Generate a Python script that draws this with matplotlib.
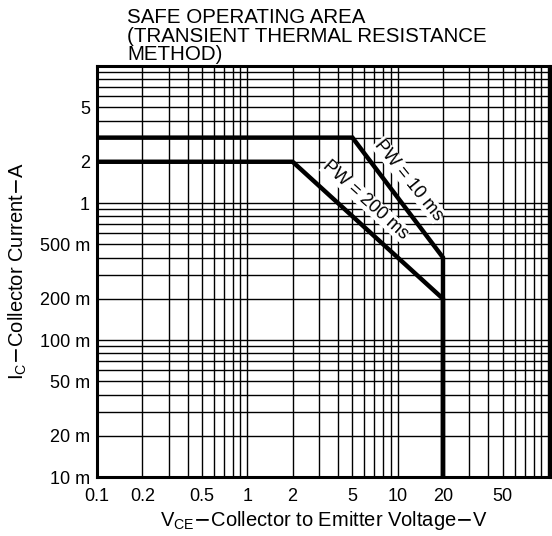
import matplotlib
matplotlib.use("Agg")
import matplotlib.pyplot as plt
from matplotlib.ticker import FixedLocator, NullFormatter, LogLocator

# Data
pw10_v = [0.1, 5.0, 20.0, 20.0]
pw10_i = [3.0, 3.0, 0.4, 0.01]
pw200_v = [0.1, 2.0, 20.0, 20.0]
pw200_i = [2.0, 2.0, 0.2, 0.01]

x_ticks = [0.1, 0.2, 0.5, 1, 2, 5, 10, 20, 50]
x_labels = ["0.1", "0.2", "0.5", "1", "2", "5", "10", "20", "50"]
y_ticks = [0.01, 0.02, 0.05, 0.1, 0.2, 0.5, 1, 2, 5]
y_labels = ["10 m", "20 m", "50 m", "100 m", "200 m", "500 m", "1", "2", "5"]

plt.rcParams['font.family'] = ['Liberation Sans', 'DejaVu Sans']

fig = plt.figure(figsize=(5.52, 5.36), dpi=100)
ax = fig.add_axes([0.1757, 0.110, 0.8207, 0.7669])
ax.set_xscale('log')
ax.set_yscale('log')
ax.set_xlim(0.1, 103)
ax.set_ylim(0.01, 10)

ax.xaxis.set_major_locator(FixedLocator(x_ticks))
ax.set_xticklabels(x_labels)
ax.xaxis.set_minor_locator(LogLocator(base=10, subs=range(1, 10), numticks=20))
ax.xaxis.set_minor_formatter(NullFormatter())
ax.yaxis.set_major_locator(FixedLocator(y_ticks))
ax.set_yticklabels(y_labels)
ax.yaxis.set_minor_locator(LogLocator(base=10, subs=range(1, 10), numticks=20))
ax.yaxis.set_minor_formatter(NullFormatter())

ax.grid(True, which='both', color='black', linewidth=1.0)
ax.tick_params(which='both', length=0, labelsize=13)
ax.tick_params(axis='x', pad=8)
ax.tick_params(axis='y', pad=5)
for s in ax.spines.values():
    s.set_linewidth(2.2)

ax.plot(pw10_v, pw10_i, color='black', linewidth=3.2, solid_joinstyle='miter', zorder=5)
ax.plot(pw200_v, pw200_i, color='black', linewidth=3.2, solid_joinstyle='miter', zorder=5)

ax.text(11.8, 1.47, "PW = 10 ms", rotation=-51, ha='center', va='center', fontsize=13,
        bbox=dict(facecolor='white', edgecolor='none', pad=0.3), zorder=6)
ax.text(6.1, 1.05, "PW = 200 ms", rotation=-42, ha='center', va='center', fontsize=13,
        bbox=dict(facecolor='white', edgecolor='none', pad=0.3), zorder=6)

ax.set_xlabel(r"V$_\mathregular{CE}$$-$Collector to Emitter Voltage$-$V", fontsize=14.5, labelpad=3)
ax.set_ylabel(r"I$_\mathregular{C}$$-$Collector Current$-$A", fontsize=14.5, labelpad=8)

fig.text(0.23, 0.985, "SAFE OPERATING AREA\n(TRANSIENT THERMAL RESISTANCE\nMETHOD)",
         ha='left', va='top', fontsize=14.8, linespacing=0.97)

fig.savefig("out.png", dpi=100)
